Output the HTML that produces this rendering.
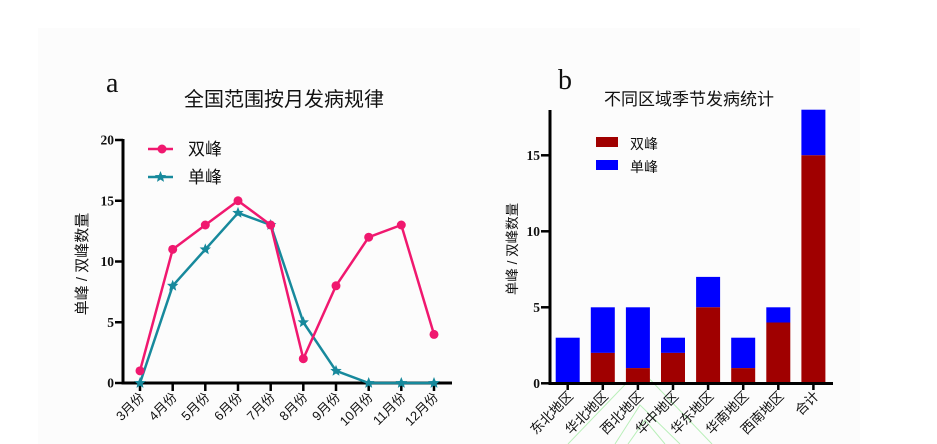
<!DOCTYPE html>
<html><head><meta charset="utf-8">
<style>
html,body{margin:0;padding:0;background:#fff;}
svg{display:block;}
.t{font-family:"Liberation Serif",serif;font-weight:bold;font-size:13.5px;fill:#111;}
.c{font-family:"Liberation Sans","Noto Sans CJK SC",sans-serif;fill:#111;}
</style></head>
<body>
<svg width="937" height="444" viewBox="0 0 937 444" xmlns="http://www.w3.org/2000/svg">
<defs>
<polygon id="st" points="0,-6 1.6,-2 5.7,-1.9 2.6,0.9 3.5,4.9 0,2.6 -3.5,4.9 -2.6,0.9 -5.7,-1.9 -1.6,-2" fill="#17899c"/>
</defs>
<rect x="0" y="0" width="937" height="444" fill="#fff"/>
<rect x="38" y="28" width="822" height="416" fill="#fcfcfc"/>

<!-- faint watermark lines -->
<g stroke="#b9efb9" stroke-width="1" fill="none">
<polyline points="568,444 640,369 712,444"/>
<polyline points="615,444 640,405 680,444"/>
<polyline points="628,444 645,420 665,444"/>
</g>

<!-- Panel a -->
<text x="106" y="92" font-family="Liberation Serif,serif" font-size="28" fill="#111">a</text>
<text x="184" y="106" class="c" font-size="20">全国范围按月发病规律</text>

<!-- axes a -->
<g stroke="#000" stroke-width="3" fill="none">
<line x1="123" y1="139" x2="123" y2="384.5"/>
<line x1="121.5" y1="383" x2="452" y2="383"/>
</g>
<g stroke="#000" stroke-width="2.5">
<line x1="115" y1="383" x2="123" y2="383"/>
<line x1="115" y1="322.25" x2="123" y2="322.25"/>
<line x1="115" y1="261.5" x2="123" y2="261.5"/>
<line x1="115" y1="200.75" x2="123" y2="200.75"/>
<line x1="115" y1="140" x2="123" y2="140"/>
<line x1="140" y1="383" x2="140" y2="391"/>
<line x1="172.7" y1="383" x2="172.7" y2="391"/>
<line x1="205.3" y1="383" x2="205.3" y2="391"/>
<line x1="238" y1="383" x2="238" y2="391"/>
<line x1="270.7" y1="383" x2="270.7" y2="391"/>
<line x1="303.3" y1="383" x2="303.3" y2="391"/>
<line x1="336" y1="383" x2="336" y2="391"/>
<line x1="368.7" y1="383" x2="368.7" y2="391"/>
<line x1="401.3" y1="383" x2="401.3" y2="391"/>
<line x1="434" y1="383" x2="434" y2="391"/>
</g>
<g class="t" text-anchor="end">
<text x="114" y="387.5">0</text>
<text x="114" y="327">5</text>
<text x="114" y="266">10</text>
<text x="114" y="205.5">15</text>
<text x="114" y="144.5">20</text>
</g>
<text class="c" font-size="15" text-anchor="middle" transform="translate(87,264) rotate(-90)">单峰 / 双峰数量</text>

<g class="c" font-size="13" text-anchor="end">
<text transform="translate(145,398) rotate(-45)">3月份</text>
<text transform="translate(177.7,398) rotate(-45)">4月份</text>
<text transform="translate(210.3,398) rotate(-45)">5月份</text>
<text transform="translate(243,398) rotate(-45)">6月份</text>
<text transform="translate(275.7,398) rotate(-45)">7月份</text>
<text transform="translate(308.3,398) rotate(-45)">8月份</text>
<text transform="translate(341,398) rotate(-45)">9月份</text>
<text transform="translate(373.7,398) rotate(-45)">10月份</text>
<text transform="translate(406.3,398) rotate(-45)">11月份</text>
<text transform="translate(439,398) rotate(-45)">12月份</text>
</g>

<!-- 单峰 teal -->
<polyline fill="none" stroke="#17899c" stroke-width="2.5" stroke-linejoin="round"
points="140,383 172.7,285.8 205.3,249.4 238,212.9 270.7,225 303.3,322.25 336,370.85 368.7,383 401.3,383 434,383"/>
<g>
<use href="#st" x="140" y="383"/>
<use href="#st" x="172.7" y="285.8"/>
<use href="#st" x="205.3" y="249.4"/>
<use href="#st" x="238" y="212.9"/>
<use href="#st" x="270.7" y="225"/>
<use href="#st" x="303.3" y="322.25"/>
<use href="#st" x="336" y="370.85"/>
<use href="#st" x="368.7" y="383"/>
<use href="#st" x="401.3" y="383"/>
<use href="#st" x="434" y="383"/>
</g>

<!-- 双峰 pink -->
<polyline fill="none" stroke="#f0186f" stroke-width="2.5" stroke-linejoin="round"
points="140,370.85 172.7,249.35 205.3,225 238,200.75 270.7,225 303.3,358.7 336,285.8 368.7,237.2 401.3,225 434,334.4"/>
<g fill="#f0186f">
<circle cx="140" cy="370.85" r="4.5"/>
<circle cx="172.7" cy="249.35" r="4.5"/>
<circle cx="205.3" cy="225" r="4.5"/>
<circle cx="238" cy="200.75" r="4.5"/>
<circle cx="270.7" cy="225" r="4.5"/>
<circle cx="303.3" cy="358.7" r="4.5"/>
<circle cx="336" cy="285.8" r="4.5"/>
<circle cx="368.7" cy="237.2" r="4.5"/>
<circle cx="401.3" cy="225" r="4.5"/>
<circle cx="434" cy="334.4" r="4.5"/>
</g>

<!-- legend a -->
<line x1="148" y1="149" x2="173" y2="149" stroke="#f0186f" stroke-width="2.5"/>
<circle cx="162" cy="149" r="4.5" fill="#f0186f"/>
<text x="188" y="155" class="c" font-size="17">双峰</text>
<line x1="148" y1="177" x2="173" y2="177" stroke="#17899c" stroke-width="2.5"/>
<use href="#st" x="160.5" y="177"/>
<text x="188" y="183" class="c" font-size="17">单峰</text>

<!-- Panel b -->
<text x="558" y="89" font-family="Liberation Serif,serif" font-size="28" fill="#111">b</text>
<text x="604" y="105" class="c" font-size="17">不同区域季节发病统计</text>

<g>
<rect x="555.7" y="337.7" width="24" height="45.6" fill="#0000ff"/>
<rect x="590.8" y="307.3" width="24" height="45.6" fill="#0000ff"/>
<rect x="590.8" y="352.9" width="24" height="30.4" fill="#a00000"/>
<rect x="625.9" y="307.3" width="24" height="60.8" fill="#0000ff"/>
<rect x="625.9" y="368.1" width="24" height="15.2" fill="#a00000"/>
<rect x="661" y="337.7" width="24" height="15.2" fill="#0000ff"/>
<rect x="661" y="352.9" width="24" height="30.4" fill="#a00000"/>
<rect x="696.1" y="276.9" width="24" height="30.4" fill="#0000ff"/>
<rect x="696.1" y="307.3" width="24" height="76" fill="#a00000"/>
<rect x="731.2" y="337.7" width="24" height="30.4" fill="#0000ff"/>
<rect x="731.2" y="368.1" width="24" height="15.2" fill="#a00000"/>
<rect x="766.3" y="307.3" width="24" height="15.2" fill="#0000ff"/>
<rect x="766.3" y="322.5" width="24" height="60.8" fill="#a00000"/>
<rect x="801.4" y="109.7" width="24" height="45.6" fill="#0000ff"/>
<rect x="801.4" y="155.3" width="24" height="228" fill="#a00000"/>
</g>

<g stroke="#000" stroke-width="3" fill="none">
<line x1="550" y1="110" x2="550" y2="385"/>
<line x1="548.5" y1="383.5" x2="833" y2="383.5"/>
</g>
<g stroke="#000" stroke-width="2.5">
<line x1="541" y1="383.3" x2="550" y2="383.3"/>
<line x1="541" y1="307.3" x2="550" y2="307.3"/>
<line x1="541" y1="231.3" x2="550" y2="231.3"/>
<line x1="541" y1="155.3" x2="550" y2="155.3"/>
<line x1="567.7" y1="383" x2="567.7" y2="390"/>
<line x1="602.8" y1="383" x2="602.8" y2="390"/>
<line x1="637.9" y1="383" x2="637.9" y2="390"/>
<line x1="673" y1="383" x2="673" y2="390"/>
<line x1="708.1" y1="383" x2="708.1" y2="390"/>
<line x1="743.2" y1="383" x2="743.2" y2="390"/>
<line x1="778.3" y1="383" x2="778.3" y2="390"/>
<line x1="813.4" y1="383" x2="813.4" y2="390"/>
</g>
<g class="t" text-anchor="end">
<text x="540" y="388">0</text>
<text x="540" y="312">5</text>
<text x="540" y="236">10</text>
<text x="540" y="160">15</text>
</g>
<text class="c" font-size="13.5" text-anchor="middle" transform="translate(517,249) rotate(-90)">单峰 / 双峰数量</text>

<g class="c" font-size="13.5" text-anchor="end">
<text transform="translate(574,397) rotate(-45)">东北地区</text>
<text transform="translate(609.1,397) rotate(-45)">华北地区</text>
<text transform="translate(644.2,397) rotate(-45)">西北地区</text>
<text transform="translate(679.3,397) rotate(-45)">华中地区</text>
<text transform="translate(714.4,397) rotate(-45)">华东地区</text>
<text transform="translate(749.5,397) rotate(-45)">华南地区</text>
<text transform="translate(784.6,397) rotate(-45)">西南地区</text>
<text transform="translate(819.7,397) rotate(-45)">合计</text>
</g>

<!-- legend b -->
<rect x="596" y="137" width="22" height="10" fill="#a00000"/>
<text x="630" y="149" class="c" font-size="14">双峰</text>
<rect x="596" y="160" width="22" height="10" fill="#0000ff"/>
<text x="630" y="172" class="c" font-size="14">单峰</text>
</svg>
</body></html>
